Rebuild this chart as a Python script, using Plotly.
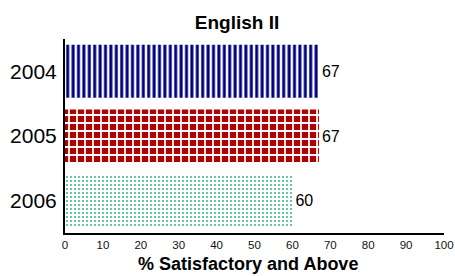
import plotly.graph_objects as go

years = ["2004", "2005", "2006"]
values = [67, 67, 60]
x_ticks = [0, 10, 20, 30, 40, 50, 60, 70, 80, 90, 100]

title_text = "English II"
x_title = "% Satisfactory and Above"

patterns = [
    dict(shape="|", fgcolor="#000080", bgcolor="white", size=5.4, solidity=0.55, fillmode="replace"),
    dict(shape="+", fgcolor="white", bgcolor="#B00000", size=8, solidity=0.4, fillmode="replace"),
    dict(shape=".", fgcolor="#2EAA86", bgcolor="white", size=4, solidity=0.18, fillmode="replace"),
]

W, H = 455, 276

fig = go.Figure()
for yr, v, p in zip(years, values, patterns):
    fig.add_trace(go.Bar(
        y=[yr], x=[v], orientation="h",
        marker=dict(color="white", pattern=p, line=dict(width=0)),
        text=[str(v)], textposition="outside",
        textfont=dict(family="Liberation Sans, Arial", size=16, color="black"),
        cliponaxis=False, width=0.82, showlegend=False,
    ))

fig.update_layout(
    width=W, height=H,
    margin=dict(l=65, r=11, t=39, b=43, autoexpand=False),
    paper_bgcolor="white", plot_bgcolor="white",
    barmode="overlay",
    font=dict(family="Liberation Sans, Arial", color="black"),
    title=dict(text="<b>" + title_text + "</b>", x=237 / W, xref="container", xanchor="center",
               y=1 - 22 / H, yref="container", yanchor="middle",
               font=dict(size=19, color="black")),
    annotations=[dict(
        text="<b>" + x_title + "</b>", xref="paper", x=(248 - 65) / 379, xanchor="center",
        yref="paper", y=-(264 - 233) / 194, yanchor="middle", showarrow=False,
        font=dict(size=18, color="black"),
    )],
)
fig.update_xaxes(
    range=[0, 100], tickvals=x_ticks, ticktext=[str(t) for t in x_ticks],
    showgrid=False, zeroline=False, showline=True, linecolor="black", linewidth=2,
    ticks="", tickfont=dict(size=11.5, color="#111"), automargin=False,
    layer="below traces",
)
fig.update_yaxes(
    categoryorder="array", categoryarray=years[::-1],
    showgrid=False, zeroline=False, showline=True, linecolor="black", linewidth=2,
    ticks="", tickfont=dict(size=21, color="black"), ticklabelstandoff=2, automargin=False,
    layer="below traces",
)

fig.write_html(
    "out.html",
    config={"displayModeBar": False},
    post_script="document.body.style.margin='0';document.body.style.overflow='hidden';",
)
